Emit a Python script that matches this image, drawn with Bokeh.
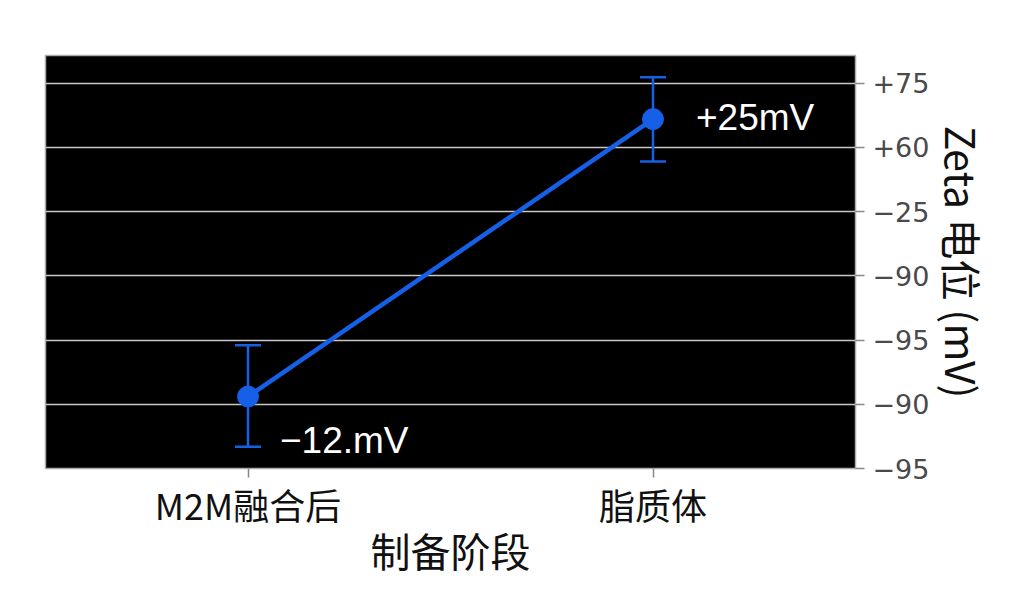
import math
from bokeh.plotting import figure
from bokeh.models import ColumnDataSource, Whisker, FixedTicker, Range1d, FactorRange, TeeHead, Title
from bokeh.core.properties import value
from bokeh.embed import file_html
from bokeh.resources import INLINE

# ---- data ----
stages = ["M2M融合后", "脂质体"]
zeta_pos = [1.12, 5.44]          # in tick-index units of the y axis
err_upper = [1.92, 6.09]
err_lower = [0.34, 4.78]
point_labels = ["−12.mV", "+25mV"]
tick_pos = [0, 1, 2, 3, 4, 5, 6]
tick_labels = ["−95", "−90", "−95", "−90", "−25", "+60", "+75"]
y_title = "Zeta 电位 (mV)"
x_title = "制备阶段"

BLUE = "#1560e6"
CJK = "Noto Sans CJK SC"
W, H = 1012, 596
FL, FT, FR, FB = 45, 55, 157, 128   # borders around the plot frame

src = ColumnDataSource(dict(
    x=stages, y=zeta_pos, upper=err_upper, lower=err_lower,
    label=point_labels, xo=[32, 43], yo=[44, -2],
))

p = figure(
    x_range=FactorRange(*stages, range_padding=0),
    y_range=Range1d(0, 6.43),
    width=W, height=H,
    output_backend="svg", toolbar_location=None,
    y_axis_location="right",
    min_border_left=FL, min_border_top=FT,
    min_border_right=FR, min_border_bottom=FB,
)
p.background_fill_color = "black"
p.border_fill_color = "white"
p.outline_line_color = "#aaaaaa"
p.outline_line_width = 1.5

p.xgrid.grid_line_color = None
p.ygrid.grid_line_color = "#c8c8c8"
p.ygrid.grid_line_width = 1.3

# y axis (right)
ya = p.yaxis[0]
ya.ticker = FixedTicker(ticks=tick_pos)
ya.major_label_overrides = {t: l for t, l in zip(tick_pos, tick_labels)}
ya.major_label_text_font = "DejaVu Sans"
ya.major_label_text_font_size = "27px"
ya.major_label_text_color = "#4a4a4a"
ya.major_label_standoff = 8
ya.axis_line_color = None
ya.major_tick_in = 0
ya.major_tick_out = 9
ya.major_tick_line_color = "#888888"
ya.major_tick_line_width = 1.5
ya.minor_tick_line_color = None

# y title as a side title to the right of the axis
p.add_layout(Title(text=y_title, align="center", text_font=CJK,
                   text_font_size="41px", text_font_style="normal",
                   text_color="#111111", standoff=0, offset=0), "right")

# x axis
xa = p.xaxis[0]
xa.axis_line_color = None
xa.major_tick_in = 0
xa.major_tick_out = 9
xa.major_tick_line_color = "#888888"
xa.major_tick_line_width = 1.5
xa.major_label_text_font = CJK
xa.major_label_text_font_size = "36px"
xa.major_label_text_color = "#111111"
xa.major_label_standoff = 0
xa.axis_label = x_title
xa.axis_label_text_font = CJK
xa.axis_label_text_font_size = "40px"
xa.axis_label_text_font_style = "normal"
xa.axis_label_text_color = "#111111"
xa.axis_label_standoff = -12

# error bars
w = Whisker(source=src, base="x", upper="upper", lower="lower",
            line_color=BLUE, line_width=2.5,
            upper_head=TeeHead(size=26, line_color=BLUE, line_width=2.5),
            lower_head=TeeHead(size=26, line_color=BLUE, line_width=2.5))
p.add_layout(w)

# connecting line and points
p.line("x", "y", source=src, line_color=BLUE, line_width=4.5)
p.scatter("x", "y", source=src, size=21, fill_color=BLUE, line_color=BLUE)

# value annotations
p.text("x", "y", text="label", source=src, x_offset="xo", y_offset="yo",
       text_color="white", text_font=value("Liberation Sans"), text_font_size="37px",
       text_baseline="middle", text_align="left")

open("out.html", "w").write(file_html(p, INLINE))
